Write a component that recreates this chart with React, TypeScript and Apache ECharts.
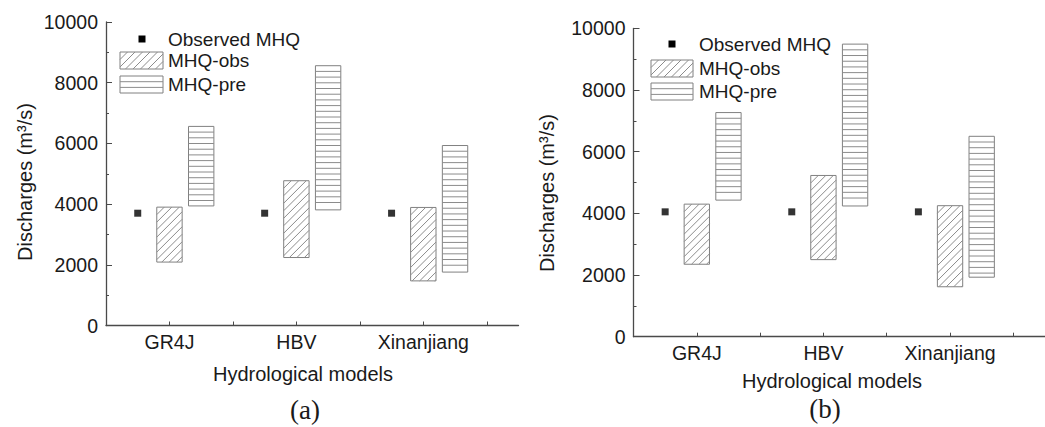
import React, { useEffect, useRef } from "react";
import * as echarts from "echarts";

const categories = ["GR4J", "HBV", "Xinanjiang"];

// Panel (a)
const aObserved = [3700, 3700, 3700];
const aObsLow = [2090, 2240, 1470];
const aObsHigh = [3900, 4770, 3890];
const aPreLow = [3940, 3810, 1760];
const aPreHigh = [6560, 8560, 5930];

// Panel (b)
const bObserved = [4050, 4050, 4050];
const bObsLow = [2350, 2500, 1620];
const bObsHigh = [4300, 5230, 4250];
const bPreLow = [4430, 4240, 1930];
const bPreHigh = [7270, 9490, 6500];

const yTicks = [0, 2000, 4000, 6000, 8000, 10000];

const FONT = "'Liberation Sans', Arial, sans-serif";
const TXT = "#1a1a1a";
const AX = "#4a4a4a";
const HATCH = "#8c8c8c";
const BORDER = "#808080";

function hatchShapes(x0: number, y0: number, x1: number, y1: number, kind: "diag" | "horiz") {
  const out: any[] = [];
  out.push({
    type: "rect",
    shape: { x: x0, y: y0, width: x1 - x0, height: y1 - y0 },
    style: { fill: "#fff", stroke: BORDER, lineWidth: 1 },
  });
  if (kind === "horiz") {
    const step = 5.7;
    for (let y = y0 + step; y < y1 - 2.5; y += step) {
      out.push({
        type: "line",
        shape: { x1: x0, y1: y, x2: x1, y2: y },
        style: { stroke: HATCH, lineWidth: 1 },
      });
    }
  } else {
    const step = 7.5;
    for (let c = x0 + y0 + step; c < x1 + y1; c += step) {
      const xa = Math.max(x0, c - y1);
      const xb = Math.min(x1, c - y0);
      if (xb - xa < 0.5) continue;
      out.push({
        type: "line",
        shape: { x1: xa, y1: c - xa, x2: xb, y2: c - xb },
        style: { stroke: HATCH, lineWidth: 1 },
      });
    }
  }
  return out;
}

function rangeSeries(idx: number, low: number[], high: number[], offset: number, kind: "diag" | "horiz") {
  return {
    type: "custom",
    xAxisIndex: idx,
    yAxisIndex: idx,
    data: low.map((l, i) => [2 * i + 1 + offset, l, high[i]]),
    renderItem: (_p: any, api: any) => {
      const x = api.value(0);
      const p1 = api.coord([x - 0.2, api.value(2)]);
      const p2 = api.coord([x + 0.2, api.value(1)]);
      return { type: "group", children: hatchShapes(p1[0], p1[1], p2[0], p2[1], kind) };
    },
  };
}

function legend(sqX: number, sqY: number, rx0: number, rx1: number, r1y: number, r2y: number, tx: number) {
  const h = 17;
  const els: any[] = [];
  els.push({ type: "rect", shape: { x: sqX - 3.5, y: sqY - 3.5, width: 7, height: 7 }, style: { fill: "#000" } });
  els.push(...hatchShapes(rx0, r1y, rx1, r1y + h, "diag"));
  els.push(...hatchShapes(rx0, r2y, rx1, r2y + h, "horiz"));
  const t = (text: string, y: number) => ({
    type: "text",
    x: tx,
    y,
    style: { text, fill: TXT, font: `19px ${FONT}`, textAlign: "left", textVerticalAlign: "middle" },
  });
  els.push(t("Observed MHQ", sqY));
  els.push(t("MHQ-obs", r1y + h / 2));
  els.push(t("MHQ-pre", r2y + h / 2));
  return els;
}

function xAxis(idx: number) {
  return {
    type: "value",
    gridIndex: idx,
    min: 0,
    max: 6.5,
    interval: 1,
    axisLine: { lineStyle: { color: AX, width: 1.3 } },
    axisTick: { inside: true, length: 4, lineStyle: { color: AX }, customValues: [1, 2, 3, 4, 5, 6] },
    axisLabel: {
      customValues: [1, 3, 5],
      formatter: (v: number) => {
        const i = (v - 1) / 2;
        return Number.isInteger(i) && i >= 0 && i < categories.length ? categories[i] : "";
      },
      color: TXT,
      fontSize: 19.5,
      fontFamily: FONT,
      margin: 6,
    },
    splitLine: { show: false },
  };
}

function yAxis(idx: number) {
  return {
    type: "value",
    gridIndex: idx,
    min: yTicks[0],
    max: yTicks[yTicks.length - 1],
    interval: yTicks[1] - yTicks[0],
    axisLine: { show: true, lineStyle: { color: AX, width: 1.3 } },
    axisTick: { show: true, inside: true, length: 6, lineStyle: { color: AX } },
    minorTick: { show: true, splitNumber: 2, length: 3, lineStyle: { color: AX } },
    axisLabel: {
      color: TXT,
      fontSize: 19.5,
      fontFamily: FONT,
      margin: 8,
      formatter: (v: number) => String(v),
    },
    splitLine: { show: false },
  };
}

function scatter(idx: number, vals: number[]) {
  return {
    type: "scatter",
    xAxisIndex: idx,
    yAxisIndex: idx,
    symbol: "rect",
    symbolSize: 7,
    itemStyle: { color: "#000" },
    data: vals.map((v, i) => [2 * i + 0.5, v]),
  };
}

export default function App() {
  const ref = useRef<HTMLDivElement>(null);
  useEffect(() => {
    if (!ref.current) return;
    const chart = echarts.init(ref.current, undefined, { renderer: "svg" });
    const label = (text: string, x: number, y: number) => ({
      type: "text",
      x,
      y,
      rotation: Math.PI / 2,
      style: { text, fill: TXT, font: `20px ${FONT}`, textAlign: "center", textVerticalAlign: "middle" },
    });
    const plain = (text: string, x: number, y: number, font: string) => ({
      type: "text",
      x,
      y,
      style: { text, fill: TXT, font, textAlign: "center", textVerticalAlign: "middle" },
    });
    chart.setOption({
      animation: false,
      backgroundColor: "#fff",
      grid: [
        { left: 106, top: 22, width: 412.5, height: 303.5 },
        { left: 633.5, top: 28.4, width: 419, height: 308.3 },
      ],
      xAxis: [xAxis(0), xAxis(1)],
      yAxis: [yAxis(0), yAxis(1)],
      series: [
        scatter(0, aObserved),
        rangeSeries(0, aObsLow, aObsHigh, 0, "diag"),
        rangeSeries(0, aPreLow, aPreHigh, 0.5, "horiz"),
        scatter(1, bObserved),
        rangeSeries(1, bObsLow, bObsHigh, 0, "diag"),
        rangeSeries(1, bPreLow, bPreHigh, 0.5, "horiz"),
      ],
      graphic: [
        ...legend(142, 39, 120, 163, 52, 76, 168),
        ...legend(672, 44, 651, 693, 60, 83, 699),
        label("Discharges (m³/s)", 25, 182),
        label("Discharges (m³/s)", 547, 193),
        plain("Hydrological models", 303, 374, `20px ${FONT}`),
        plain("Hydrological models", 832, 381, `20px ${FONT}`),
        plain("(a)", 305, 410, `27px 'Liberation Serif', 'Times New Roman', serif`),
        plain("(b)", 825, 409, `27px 'Liberation Serif', 'Times New Roman', serif`),
      ],
    });
    return () => chart.dispose();
  }, []);
  return <div ref={ref} style={{ position: "fixed", left: 0, top: 0, width: 1045, height: 427 }} />;
}
